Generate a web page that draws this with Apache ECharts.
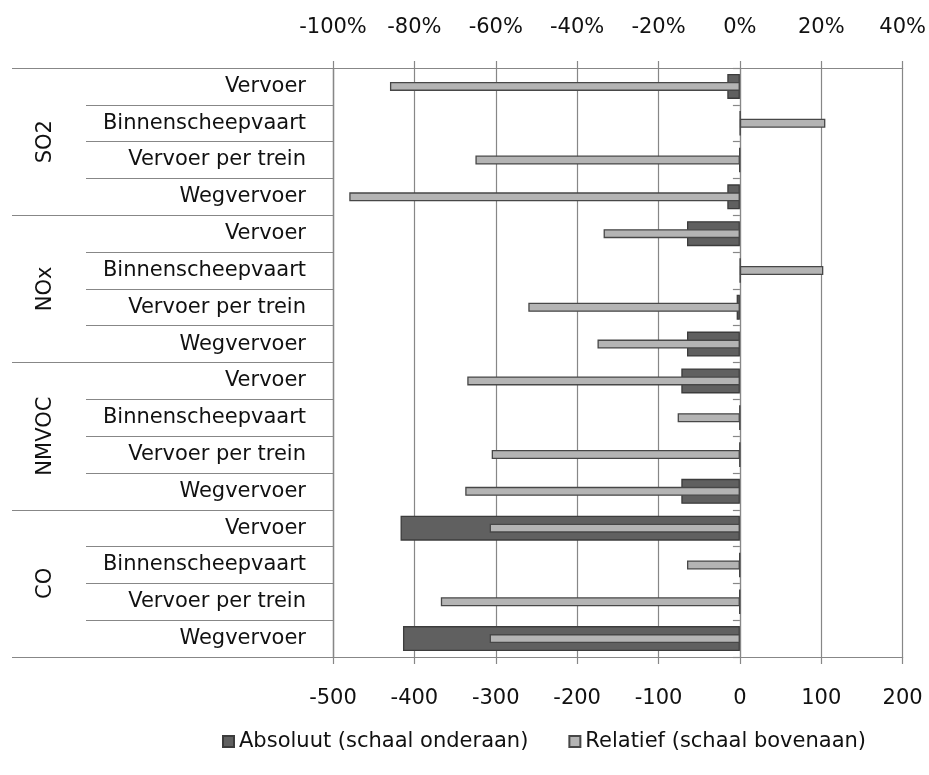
<!DOCTYPE html>
<html>
<head>
<meta charset="utf-8">
<script src="https://cdn.jsdelivr.net/npm/echarts@6/dist/echarts.min.js"></script>
<style>
  html, body { margin: 0; padding: 0; background: #ffffff; }
  #chart { width: 929px; height: 775px; }
</style>
</head>
<body>
<div id="chart"></div>
<script>
// Emission groups and the transport sectors inside each group
const groups = ['SO2', 'NOx', 'NMVOC', 'CO'];
const sectors = ['Vervoer', 'Binnenscheepvaart', 'Vervoer per trein', 'Wegvervoer'];
const categories = groups.flatMap(() => sectors);

// Absolute change (bottom scale)
const absolute = [-15.5, 0.5, -0.5, -15.5,
                  -65, 0.5, -4, -65,
                  -72, -0.3, -0.3, -72,
                  -417, -0.5, -0.5, -414];
// Relative change in percent (top scale)
const relative = [-86, 21, -65, -96,
                  -33.5, 20.5, -52, -35,
                  -67, -15.3, -61, -67.5,
                  -61.5, -13, -73.5, -61.5];

const absTicks = { min: -500, max: 200, interval: 100 };
const relTicks = { min: -100, max: 40, interval: 20 };

const FONT = 'DejaVu Sans';
const FS = 21;
const GRID_GRAY = '#878787';
const TEXT = '#111111';

const chart = echarts.init(document.getElementById('chart'), null, { renderer: 'canvas' });

chart.setOption({
  animation: false,
  textStyle: { fontFamily: FONT },
  grid: { left: 333, right: 23, top: 68, bottom: 118, containLabel: false },
  legend: {
    data: ['Absoluut (schaal onderaan)', 'Relatief (schaal bovenaan)'],
    left: 217,
    bottom: 18,
    icon: 'rect',
    itemWidth: 11,
    itemHeight: 11,
    itemGap: 40,
    textStyle: { fontFamily: FONT, fontSize: FS, color: TEXT }
  },
  xAxis: [
    {
      type: 'value', position: 'bottom',
      min: absTicks.min, max: absTicks.max, interval: absTicks.interval,
      axisLine: { show: true, onZero: false, lineStyle: { color: GRID_GRAY, width: 1.2 } },
      axisTick: { show: true, length: 7, lineStyle: { color: GRID_GRAY, width: 1.2 } },
      axisLabel: { fontFamily: FONT, fontSize: FS, color: TEXT, margin: 31 },
      splitLine: { show: true, lineStyle: { color: GRID_GRAY, width: 1.2 } }
    },
    {
      type: 'value', position: 'top',
      min: relTicks.min, max: relTicks.max, interval: relTicks.interval,
      axisLine: { show: true, onZero: false, lineStyle: { color: GRID_GRAY, width: 1.2 } },
      axisTick: { show: true, length: 7, lineStyle: { color: GRID_GRAY, width: 1.2 } },
      axisLabel: { fontFamily: FONT, fontSize: FS, color: TEXT, margin: 30, formatter: '{value}%' },
      splitLine: { show: false }
    }
  ],
  yAxis: [
    {
      // sector labels with separators between the rows
      type: 'category', position: 'left', inverse: true, data: categories,
      axisLine: { show: true, onZero: false, lineStyle: { color: GRID_GRAY, width: 1.2 } },
      axisTick: { show: true, interval: 0, length: 247, lineStyle: { color: GRID_GRAY, width: 1.2 } },
      axisLabel: { interval: 0, fontFamily: FONT, fontSize: FS, color: TEXT, margin: 27 },
      splitLine: { show: false }
    },
    {
      // pollutant group labels, rotated, with longer separators
      type: 'category', position: 'left', inverse: true, data: groups,
      axisLine: { show: true, onZero: false, lineStyle: { color: GRID_GRAY, width: 1.2 } },
      axisTick: { show: true, interval: 0, length: 321, lineStyle: { color: GRID_GRAY, width: 1.2 } },
      axisLabel: { interval: 0, rotate: 90, fontFamily: FONT, fontSize: FS, color: TEXT, margin: 277 },
      splitLine: { show: false }
    },
    {
      // secondary category axis crossing at zero
      type: 'category', position: 'left', inverse: true, data: categories,
      axisLine: { show: true, onZero: true, onZeroAxisIndex: 0, lineStyle: { color: GRID_GRAY, width: 1.2 } },
      axisTick: { show: true, interval: 0, length: 7, lineStyle: { color: GRID_GRAY, width: 1.2 } },
      axisLabel: { show: false },
      splitLine: { show: false }
    }
  ],
  series: [
    {
      name: 'Absoluut (schaal onderaan)',
      type: 'bar',
      xAxisIndex: 0, yAxisIndex: 0,
      data: absolute,
      barWidth: 25,
      itemStyle: { color: '#606060', borderColor: '#3c3c3c', borderWidth: 1.3 },
      z: 2
    },
    {
      name: 'Relatief (schaal bovenaan)',
      type: 'bar',
      xAxisIndex: 1, yAxisIndex: 2,
      data: relative,
      barWidth: 9,
      itemStyle: { color: '#b4b4b4', borderColor: '#474747', borderWidth: 1.3 },
      z: 3
    }
  ]
});
</script>
</body>
</html>
